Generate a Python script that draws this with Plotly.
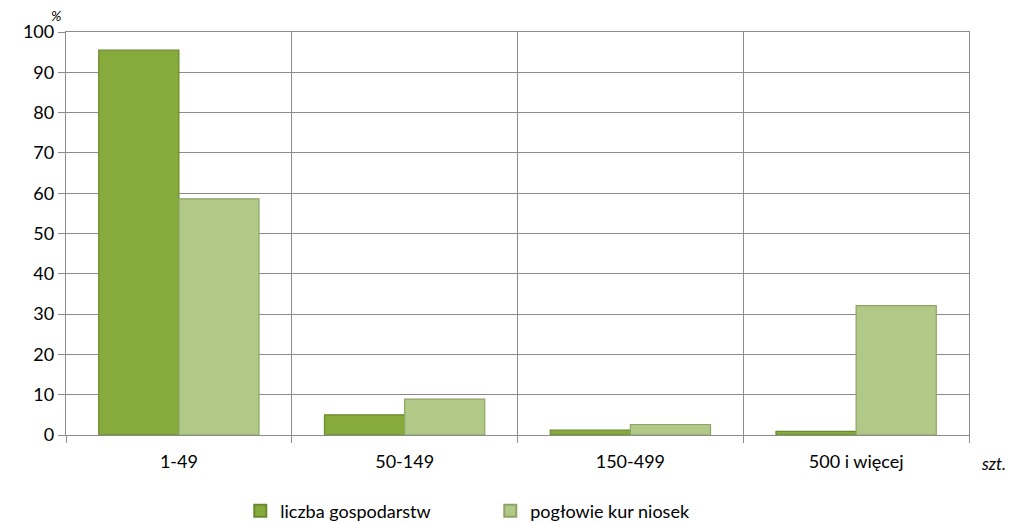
import plotly.graph_objects as go

categories = ["1-49", "50-149", "150-499", "500 i więcej"]
farms = [95.5, 5.0, 1.2, 0.9]
hens = [58.6, 8.9, 2.6, 32.1]
y_ticks = [0, 10, 20, 30, 40, 50, 60, 70, 80, 90, 100]

FONT = "Lato, Carlito, 'DejaVu Sans', sans-serif"
GRID = "#8c8c8c"

fig = go.Figure()
fig.add_trace(go.Bar(
    x=categories, y=farms, name="liczba gospodarstw",
    marker=dict(color="#87aa3c", line=dict(color="#6b8a2c", width=1.2)),
))
fig.add_trace(go.Bar(
    x=categories, y=hens, name="pogłowie kur niosek",
    marker=dict(color="#b0c987", line=dict(color="#8ea466", width=1.2)),
))

# the page body adds an 8px margin, so the figure is sized to fit the window
fig.update_layout(
    width=1007, height=515,
    paper_bgcolor="#ffffff", plot_bgcolor="#ffffff",
    barmode="group", bargap=0.29, bargroupgap=0,
    margin=dict(l=58, r=46, t=24, b=88),
    font=dict(family=FONT, size=18, color="#000000"),
    showlegend=True,
    legend=dict(orientation="h", x=0.193, xanchor="left", xref="paper",
                y=0.023, yanchor="middle", yref="container",
                entrywidth=205, font=dict(size=18), itemsizing="constant"),
    xaxis=dict(type="category", tickson="boundaries", showgrid=True, gridcolor=GRID, gridwidth=1.3,
               showline=True, linecolor=GRID, linewidth=1.3, mirror=True, automargin=False,
               ticks="outside", ticklen=7, tickcolor=GRID, tickwidth=1.3, ticklabelstandoff=10),
    yaxis=dict(range=[0, 100], tickvals=y_ticks, showgrid=True, gridcolor=GRID, gridwidth=1.3,
               showline=True, linecolor=GRID, linewidth=1.3, mirror=True, zeroline=False,
               automargin=False, ticks="outside", ticklen=7, tickcolor=GRID, tickwidth=1.3,
               ticklabelstandoff=0),
    annotations=[
        dict(text="<i>%</i>", xref="paper", yref="paper", x=-0.011, y=1.0, xanchor="center",
             yanchor="bottom", yshift=6, showarrow=False, font=dict(size=14)),
        dict(text="<i>szt.</i>", xref="paper", yref="paper", x=1.027, y=-0.07, xanchor="center",
             yanchor="middle", showarrow=False, font=dict(size=17)),
    ],
)

fig.write_html("out.html")
